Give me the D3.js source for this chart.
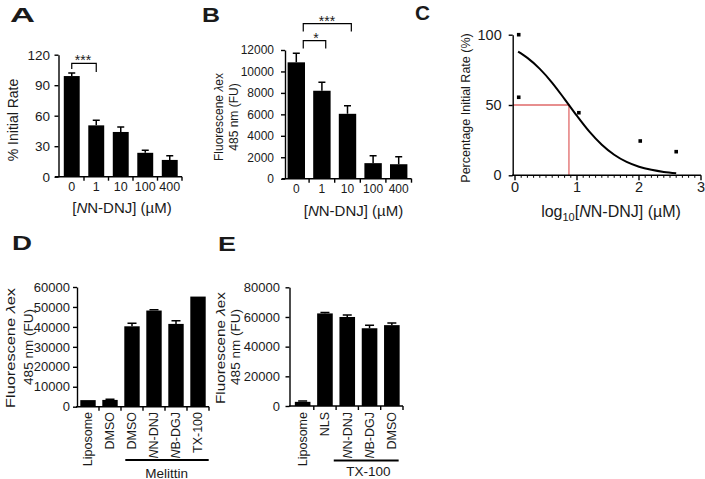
<!DOCTYPE html>
<html><head><meta charset="utf-8">
<script src="https://cdn.jsdelivr.net/npm/d3@7"></script>
<style>
html,body{margin:0;padding:0;background:#fff;}
svg text{font-family:"Liberation Sans",Arial,Helvetica,sans-serif;fill:#1a1a1a;}
</style></head><body>
<svg id="fig" width="705" height="479"></svg>
<script>
// ---------- data ----------
const concLabels = ["0", "1", "10", "100", "400"];
const rateA = [99, 50.5, 44, 23.5, 16.5];
const rateAErr = [3, 5, 5, 2.5, 4];
const fluorB = [10850, 8200, 6050, 1450, 1350];
const fluorBErr = [850, 800, 750, 700, 700];
const logConcC = [0.06, 0.06, 1.03, 2.02, 2.6];
const rateC = [100, 55.5, 44.5, 24.4, 16.8];
const fitLogConc = [0.05, 0.2, 0.4, 0.6, 0.8, 1.0, 1.2, 1.4, 1.6, 1.8, 2.0, 2.2, 2.4, 2.6];
const fitRate = [87.9, 83.5, 75.7, 65.8, 54.2, 42.2, 31.0, 21.7, 14.6, 9.5, 6.1, 3.9, 2.4, 1.5];
const ic50Log = 0.87;
const ic50Rate = 50;
const catsD = ["Liposome", "DMSO", "DMSO", "NN-DNJ", "NB-DGJ", "TX-100"];
const fluorD = [3300, 3400, 40300, 48200, 41500, 55200];
const fluorDErr = [0, 300, 1500, 400, 1600, 0];
const catsE = ["Liposome", "NLS", "NN-DNJ", "NB-DGJ", "DMSO"];
const fluorE = [2800, 62400, 60000, 52400, 54500];
const fluorEErr = [600, 600, 1300, 2100, 1400];
const ticksA = [0, 30, 60, 90, 120];
const ticksB = [0, 2000, 4000, 6000, 8000, 10000, 12000];
const ticksCy = [0, 50, 100];
const ticksCx = [0, 1, 2, 3];
const ticksD = [0, 10000, 20000, 30000, 40000, 50000, 60000];
const ticksE = [0, 20000, 40000, 60000, 80000];

// ---------- helpers ----------
const svg = d3.select("#fig");
const TXT = "#1a1a1a";

function label(g, txt, x, y, fs, opts = {}) {
  const t = g.append("text").attr("x", x).attr("y", y).attr("font-size", fs)
    .attr("text-anchor", opts.anchor || "middle").text(txt);
  if (opts.bold) t.attr("font-weight", "bold");
  if (opts.rotate) t.attr("transform", `rotate(-90,${x},${y})`);
  if (opts.len) t.attr("textLength", opts.len).attr("lengthAdjust", "spacingAndGlyphs");
  if (opts.dy) t.attr("dy", opts.dy);
  return t;
}
// text with leading italic N for compounds like NN-DNJ
function richName(t, name) {
  if (/^N[NB]-/.test(name)) {
    t.append("tspan").attr("font-style", "italic").text("N");
    t.append("tspan").text(name.slice(1));
  } else t.text(name);
}
function compoundTitle(t) {
  t.append("tspan").text("[");
  t.append("tspan").attr("font-style", "italic").text("N");
  t.append("tspan").text("N-DNJ] (µM)");
}
function fluorLabel(t) {
  t.append("tspan").text("Fluorescene ");
  t.append("tspan").attr("font-style", "italic").text("λ");
  t.append("tspan").text("ex");
}
function yAxis(g, y, ticks, xPos, fs, pad) {
  const ax = g.append("g").attr("transform", `translate(${xPos},0)`)
    .call(d3.axisLeft(y).tickValues(ticks).tickSize(4).tickSizeOuter(0).tickPadding(pad).tickFormat(d3.format("d")));
  ax.select(".domain").attr("stroke", "#000").attr("stroke-width", 1.4);
  ax.selectAll(".tick line").attr("stroke", "#000").attr("stroke-width", 1.4);
  ax.selectAll(".tick text").attr("font-size", fs).attr("fill", TXT);
  return ax;
}
function bandAxis(g, x, y0, xStart) {
  const r = x.range(), step = x.step(), n = x.domain().length;
  g.append("line").attr("x1", xStart).attr("x2", r[1]).attr("y1", y0).attr("y2", y0)
    .attr("stroke", "#000").attr("stroke-width", 1.4);
  g.selectAll(null).data(d3.range(1, n + 1)).join("line")
    .attr("x1", k => r[0] + k * step).attr("x2", k => r[0] + k * step)
    .attr("y1", y0).attr("y2", y0 + 4).attr("stroke", "#000").attr("stroke-width", 1.4);
}
function bars(g, x, y, vals, errs, capW) {
  g.selectAll(null).data(vals).join("rect")
    .attr("x", (d, i) => x(i)).attr("y", d => y(d))
    .attr("width", x.bandwidth()).attr("height", d => y(0) - y(d)).attr("fill", "#000");
  const ed = vals.map((v, i) => ({ i, v, e: errs[i] })).filter(d => d.e > 0);
  g.selectAll(null).data(ed).join("path")
    .attr("d", d => {
      const cx = x(d.i) + x.bandwidth() / 2, yt = y(d.v + d.e);
      return `M${cx},${y(d.v)}V${yt}M${cx - capW / 2},${yt}H${cx + capW / 2}`;
    })
    .attr("stroke", "#000").attr("stroke-width", 1.5).attr("fill", "none");
}
function bracket(g, x1, x2, yTop, yL, yR) {
  g.append("path").attr("d", `M${x1},${yL}V${yTop}H${x2}V${yR}`)
    .attr("stroke", "#000").attr("stroke-width", 1.2).attr("fill", "none");
}

// ---------- Panel A ----------
{
  const g = svg.append("g");
  const x = d3.scaleBand(d3.range(concLabels.length), [59.5, 182]).paddingInner(0.35).paddingOuter(0.175);
  const y = d3.scaleLinear([0, 120], [176.7, 54.7]);
  bars(g, x, y, rateA, rateAErr, 7);
  bandAxis(g, x, y(0), 55);
  yAxis(g, y, ticksA, 58.5, 13.5, 4.5);
  concLabels.forEach((c, i) => label(g, c, x(i) + x.bandwidth() / 2, 190.5, 12.5));
  const c0 = x(0) + x.bandwidth() / 2, c1 = x(1) + x.bandwidth() / 2;
  bracket(g, c0, c1, y(111.5), y(106), y(103));
  label(g, "***", (c0 + c1) / 2 - 1, 65, 14);
  compoundTitle(label(g, "", 122, 212.5, 15));
  label(g, "% Initial Rate", 18, 120, 14, { rotate: true });
  label(g, "A", 10, 22, 21, { anchor: "start", bold: true, len: 25 });
}

// ---------- Panel B ----------
{
  const g = svg.append("g");
  const x = d3.scaleBand(d3.range(concLabels.length), [283.5, 411.5]).paddingInner(0.32).paddingOuter(0.16);
  const y = d3.scaleLinear([0, 12000], [178.7, 50]);
  bars(g, x, y, fluorB, fluorBErr, 7);
  bandAxis(g, x, y(0), 282);
  yAxis(g, y, ticksB, 285, 12, 7);
  concLabels.forEach((c, i) => label(g, c, x(i) + x.bandwidth() / 2, 193, 12));
  const bw = x.bandwidth();
  const l = x(0) + bw * 0.9;
  bracket(g, l, x(1) + bw * 0.72, y(12870), y(12150), y(12150));
  label(g, "*", 316, 43, 14);
  bracket(g, l, x(2) + bw * 0.72, y(14450), y(13720), y(13720));
  label(g, "***", 327, 26, 14);
  compoundTitle(label(g, "", 353.5, 215.5, 15));
  fluorLabel(label(g, "", 222.8, 117, 12, { rotate: true }));
  label(g, "485 nm (FU)", 238.3, 117, 12, { rotate: true });
  label(g, "B", 202, 22, 21, { anchor: "start", bold: true, len: 18 });
}

// ---------- Panel C ----------
{
  const g = svg.append("g");
  const x = d3.scaleLinear([0, 3], [515, 701]);
  const y = d3.scaleLinear([0, 100], [175.3, 34.7]);
  g.append("path").attr("d", `M512.7,${y(ic50Rate)}H${x(ic50Log)}V${y(0)}`)
    .attr("stroke", "#e06a6a").attr("stroke-width", 1.3).attr("fill", "none");
  g.append("path").datum(fitLogConc.map((v, i) => [v, fitRate[i]]))
    .attr("d", d3.line(d => x(d[0]), d => y(d[1])).curve(d3.curveMonotoneX))
    .attr("stroke", "#000").attr("stroke-width", 2).attr("fill", "none");
  g.selectAll(null).data(rateC).join("rect")
    .attr("x", (d, i) => x(logConcC[i]) - 1.8).attr("y", d => y(d) - 1.8)
    .attr("width", 3.6).attr("height", 3.6).attr("fill", "#000");
  yAxis(g, y, ticksCy, 512.7, 14.5, 7);
  g.append("line").attr("x1", 512).attr("x2", x(3)).attr("y1", y(0)).attr("y2", y(0))
    .attr("stroke", "#000").attr("stroke-width", 1.4);
  const minor = d3.range(1, 30).map(k => k / 10).filter(v => Math.abs(v - Math.round(v)) > 1e-6);
  g.selectAll(null).data(minor).join("line")
    .attr("x1", d => x(d)).attr("x2", d => x(d)).attr("y1", y(0)).attr("y2", y(0) + 2.5)
    .attr("stroke", "#000").attr("stroke-width", 1);
  g.selectAll(null).data(ticksCx).join("line")
    .attr("x1", d => x(d)).attr("x2", d => x(d)).attr("y1", y(0)).attr("y2", y(0) + 5)
    .attr("stroke", "#000").attr("stroke-width", 1.4);
  ticksCx.forEach(v => label(g, String(v), x(v), 191.5, 14.5));
  const t = label(g, "log", 611, 217, 16);
  t.append("tspan").attr("font-size", 11).attr("dy", 4).text("10");
  t.append("tspan").attr("dy", -4).text("[");
  t.append("tspan").attr("font-style", "italic").text("N");
  t.append("tspan").text("N-DNJ] (µM)");
  label(g, "Percentage Initial Rate (%)", 469.5, 108, 12.5, { rotate: true });
  label(g, "C", 415, 20, 20, { anchor: "start", bold: true, len: 15 });
}

// ---------- Panel D ----------
{
  const g = svg.append("g");
  const x = d3.scaleBand(d3.range(catsD.length), [77, 209]).paddingInner(0.3).paddingOuter(0.15);
  const y = d3.scaleLinear([0, 60000], [406.7, 287]);
  bars(g, x, y, fluorD, fluorDErr, 9);
  bandAxis(g, x, y(0), 76);
  yAxis(g, y, ticksD, 77, 13, 3);
  catsD.forEach((c, i) => {
    const cx = x(i) + x.bandwidth() / 2;
    richName(label(g, "", cx, 412, 12.5, { rotate: true, anchor: "end", dy: "0.35em" }), c);
  });
  g.append("line").attr("x1", x(2) + 1).attr("x2", x(5) + x.bandwidth() + 3).attr("y1", 460).attr("y2", 460)
    .attr("stroke", "#000").attr("stroke-width", 2);
  label(g, "Melittin", 166.7, 477.5, 13.5);
  fluorLabel(label(g, "", 14.7, 348, 13.5, { rotate: true, len: 120 }));
  label(g, "485 nm (FU)", 32.5, 347, 13.5, { rotate: true });
  label(g, "D", 12, 250, 21, { anchor: "start", bold: true, len: 20 });
}

// ---------- Panel E ----------
{
  const g = svg.append("g");
  const x = d3.scaleBand(d3.range(catsE.length), [291.5, 403]).paddingInner(0.3).paddingOuter(0.15);
  const y = d3.scaleLinear([0, 80000], [406, 287.3]);
  bars(g, x, y, fluorE, fluorEErr, 9);
  bandAxis(g, x, y(0), 289);
  yAxis(g, y, ticksE, 289.5, 13, 5.5);
  catsE.forEach((c, i) => {
    const cx = x(i) + x.bandwidth() / 2;
    richName(label(g, "", cx, 412, 12.5, { rotate: true, anchor: "end", dy: "0.35em" }), c);
  });
  g.append("line").attr("x1", x(1) + x.bandwidth() + 1).attr("x2", x(4) + x.bandwidth() - 1).attr("y1", 460.5).attr("y2", 460.5)
    .attr("stroke", "#000").attr("stroke-width", 2);
  label(g, "TX-100", 368.3, 476, 13.5);
  fluorLabel(label(g, "", 225, 348, 13.5, { rotate: true, len: 112 }));
  label(g, "485 nm (FU)", 240, 347, 13.5, { rotate: true });
  label(g, "E", 218, 251, 21, { anchor: "start", bold: true, len: 18 });
}
</script></body></html>
